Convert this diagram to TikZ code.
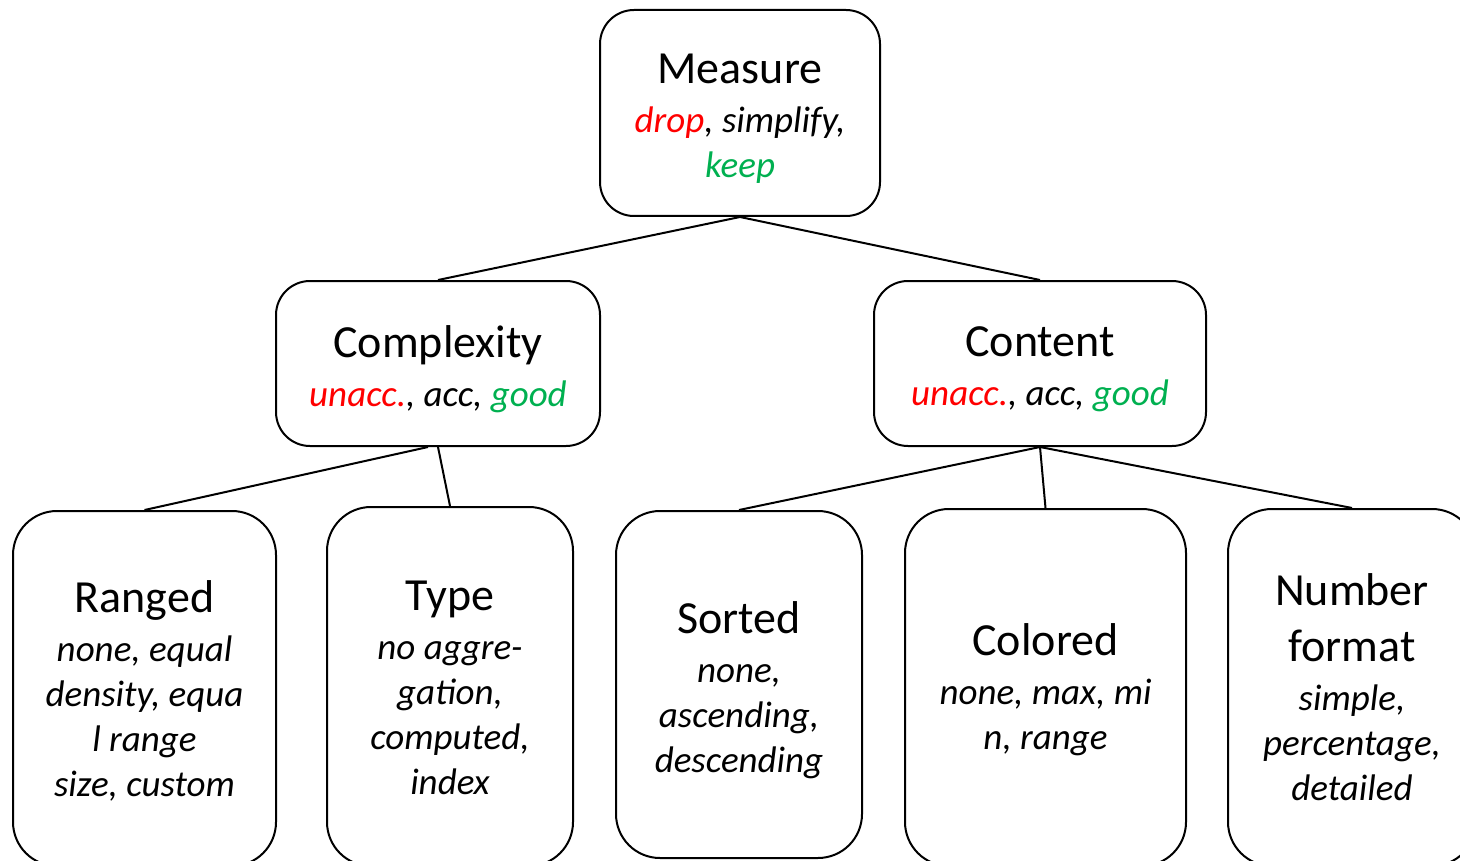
\documentclass[tikz,border=0pt]{standalone}
\usepackage{fontspec}
\setmainfont{Carlito}
\definecolor{bad}{RGB}{255,0,0}
\definecolor{ok}{RGB}{0,176,80}
\newcommand\hd[1]{{\upshape\fontsize{23}{27.5}\selectfont #1}}
\tikzset{
  box/.style={draw, line width=1pt, inner sep=0pt},
  topbox/.style={box, rounded corners=17pt},
  leafbox/.style={box, rounded corners=22pt},
  txt/.style={align=center, inner sep=0pt,
    font=\fontsize{18.5}{22.5}\selectfont\itshape},
  link/.style={line width=1pt}
}
\begin{document}
\begin{tikzpicture}[x=0.5pt,y=-0.5pt]
\useasboundingbox (0,0) rectangle (1460,861);
\clip (0,0) rectangle (1460,861);

% upper levels
\node[topbox, minimum width=140pt, minimum height=103pt] (ms) at (740,113) {};
\node[txt] (ms-t) at ([yshift=-3pt]ms.center)
  {\hd{Measure}\\[2pt]\textcolor{bad}{drop}, simplify,\\ \textcolor{ok}{keep}};
\node[topbox, minimum width=162pt, minimum height=82.5pt] (cx) at (438,363.5) {};
\node[txt] (cx-t) at ([yshift=-3pt]cx.center)
  {\hd{Complexity}\\[2pt]\textcolor{bad}{unacc.}, acc, \textcolor{ok}{good}};
\node[topbox, minimum width=166pt, minimum height=82.5pt] (ct) at (1040,363.5) {};
\node[txt] (ct-t) at ([yshift=-3pt]ct.center)
  {\hd{Content}\\[2pt]\textcolor{bad}{unacc.}, acc, \textcolor{ok}{good}};

% leaves
\node[leafbox, minimum width=131.5pt, minimum height=177.5pt] (rg) at (144.5,688.5) {};
\node[txt] (rg-t) at ([yshift=-1pt]rg.center)
  {\hd{Ranged}\\[2pt]none, equal\\ density, equa\\ l range\\ size, custom};
\node[leafbox, minimum width=123pt, minimum height=179.5pt] (ty) at (450,686.5) {};
\node[txt] (ty-t) at ([yshift=-0.5pt]ty.center)
  {\hd{Type}\\[2pt]no aggre-\\ gation,\\ computed,\\ index};
\node[leafbox, minimum width=123pt, minimum height=173.5pt] (so) at (739,684.5) {};
\node[txt] (so-t) at ([yshift=-3pt]so.center)
  {\hd{Sorted}\\[2pt]none,\\ ascending,\\ descending};
\node[leafbox, minimum width=140.5pt, minimum height=178.5pt] (co) at (1045.5,687.5) {};
\node[txt] (co-t) at ([yshift=-1pt]co.center)
  {\hd{Colored}\\[2pt]none, max, mi\\ n, range};
\node[leafbox, minimum width=124pt, minimum height=178.5pt] (nf) at (1352,687.5) {};
\node[txt] (nf-t) at (nf.center)
  {\hd{Number}\\[5.5pt]\hd{format}\\[2pt]simple,\\ percentage,\\ detailed};

% connectors
\draw[link] (ms.south) -- (cx.north);
\draw[link] (ms.south) -- (ct.north);
\draw[link] ([xshift=-5pt]cx.south) -- (rg.north);
\draw[link] (cx.south) -- (ty.north);
\draw[link] (ct.south) -- (so.north);
\draw[link] (ct.south) -- (co.north);
\draw[link] (ct.south) -- (nf.north);
\end{tikzpicture}
\end{document}
